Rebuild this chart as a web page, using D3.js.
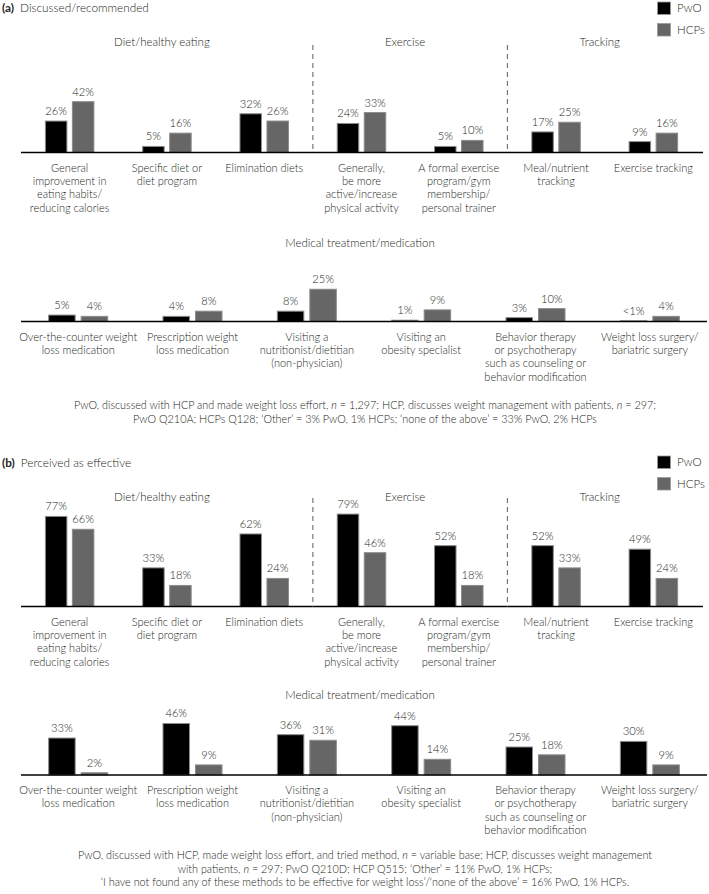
<!DOCTYPE html>
<html><head><meta charset="utf-8">
<script src="https://cdn.jsdelivr.net/npm/d3@7"></script>
<style>
html,body{margin:0;padding:0;background:#fff;}
svg text{font-family:Lato,"Open Sans",sans-serif;fill:#231f20;font-weight:300;}
</style></head>
<body><svg id="c" width="709" height="894"></svg>
<script>
// ---------- data ----------
const groupTitles = ["Diet/healthy eating", "Exercise", "Tracking"];
const groupSizes = [3, 2, 2];
const topCategories = [
  ["General", "improvement in", "eating habits/", "reducing calories"],
  ["Specific diet or", "diet program"],
  ["Elimination diets"],
  ["Generally,", "be more", "active/increase", "physical activity"],
  ["A formal exercise", "program/gym", "membership/", "personal trainer"],
  ["Meal/nutrient", "tracking"],
  ["Exercise tracking"]
];
const medTitle = "Medical treatment/medication";
const medCategories = [
  ["Over-the-counter weight", "loss medication"],
  ["Prescription weight", "loss medication"],
  ["Visiting a", "nutritionist/dietitian", "(non-physician)"],
  ["Visiting an", "obesity specialist"],
  ["Behavior therapy", "or psychotherapy", "such as counseling or", "behavior modification"],
  ["Weight loss surgery/", "bariatric surgery"]
];
const seriesNames = ["PwO", "HCPs"];

// (a) Discussed/recommended
const aTopPwO = [26, 5, 32, 24, 5, 17, 9];
const aTopHCP = [42, 16, 26, 33, 10, 25, 16];
const aMedPwO = [5, 4, 8, 1, 3, 0.5];   // 0.5 shown as "<1%"
const aMedHCP = [4, 8, 25, 9, 10, 4];

// (b) Perceived as effective
const bTopPwO = [77, 33, 62, 79, 52, 52, 49];
const bTopHCP = [66, 18, 24, 46, 18, 33, 24];
const bMedPwO = [33, 46, 36, 44, 25, 30];
const bMedHCP = [2, 9, 31, 14, 18, 9];

const fmt = v => v < 1 ? "<1%" : v + "%";

// ---------- drawing ----------
const svg = d3.select("#c");
const colors = ["#000000", "#666666"];

function legend(y0) {
  const g = svg.append("g");
  seriesNames.forEach((s, i) => {
    g.append("rect").attr("x", 657.5).attr("y", y0 + i * 21.5).attr("width", 13).attr("height", 12.5)
      .attr("fill", colors[i]).attr("stroke", "#999").attr("stroke-width", 0.8);
    g.append("text").attr("x", 677).attr("y", y0 + i * 21.5 + 10).attr("font-size", 11.5).text(s);
  });
}

function title(y, tag, txt) {
  const t = svg.append("text").attr("x", 2).attr("y", y).attr("font-size", 11.8);
  t.append("tspan").attr("font-weight", "bold").text(tag);
  t.append("tspan").attr("dx", 6).text(txt);
}

function barRow(opts) {
  const { cats, pwo, hcp, range, base, pxPer, barW, gap } = opts;
  const x = d3.scaleBand().domain(d3.range(cats.length)).range(range).padding(0);
  const yMax = 100;
  const y = d3.scaleLinear().domain([0, yMax]).range([base, base - pxPer * yMax]);
  const g = svg.append("g");
  const data = cats.map((c, i) => ({ i, vals: [pwo[i], hcp[i]] }));
  data.forEach(d => {
    const cx = x(d.i) + x.bandwidth() / 2;
    d.vals.forEach((v, k) => {
      const bx = k === 0 ? cx - gap / 2 - barW : cx + gap / 2;
      g.append("rect").attr("x", bx).attr("y", y(v)).attr("width", barW)
        .attr("height", Math.max(0, y(0) - y(v)))
        .attr("fill", colors[k]).attr("stroke", "#8c8c8c").attr("stroke-width", 1);
      g.append("text").attr("x", bx + barW / 2).attr("y", y(v) - 6)
        .attr("text-anchor", "middle").attr("font-size", 11.2).attr("fill", "#333").text(fmt(v));
    });
    const t = g.append("text").attr("text-anchor", "middle").attr("font-size", 11);
    cats[d.i].forEach((line, li) => {
      t.append("tspan").attr("x", cx).attr("y", base + 19 + li * 13.4).text(line);
    });
  });
  g.append("line").attr("x1", range[0]).attr("x2", opts.axisEnd || range[1])
    .attr("y1", base).attr("y2", base).attr("stroke", "#000").attr("stroke-width", 1.5);
  return x;
}

function topRow(pwo, hcp, base, pxPer, titleY, dashTop) {
  const x = barRow({ cats: topCategories, pwo, hcp, range: [21, 702], axisEnd: 703, base, pxPer, barW: 21.5, gap: 5.5 });
  let idx = 0;
  groupSizes.forEach((n, gi) => {
    const start = x(idx), end = x(idx + n - 1) + x.bandwidth();
    svg.append("text").attr("x", (start + end) / 2 - 5).attr("y", titleY)
      .attr("text-anchor", "middle").attr("font-size", 11.5).text(groupTitles[gi]);
    if (gi > 0) {
      svg.append("line").attr("x1", start).attr("x2", start).attr("y1", dashTop).attr("y2", base)
        .attr("stroke", "#777").attr("stroke-width", 1.2).attr("stroke-dasharray", "5,4");
    }
    idx += n;
  });
}

function medRow(pwo, hcp, base, pxPer, titleY) {
  const x = barRow({ cats: medCategories, pwo, hcp, range: [21, 707], base, pxPer, barW: 26.5, gap: 6 });
  svg.append("text").attr("x", 360).attr("y", titleY).attr("text-anchor", "middle")
    .attr("font-size", 11.5).text(medTitle);
}

function footnote(lines, yStart) {
  lines.forEach((parts, li) => {
    const t = svg.append("text").attr("x", 365).attr("y", yStart + li * 13.5)
      .attr("text-anchor", "middle").attr("font-size", 10.8);
    parts.forEach(p => {
      const ts = t.append("tspan").text(p[0]);
      if (p[1]) ts.attr("font-style", "italic");
    });
  });
}

// Panel (a)
title(11.5, "(a)", "Discussed/recommended");
legend(2);
topRow(aTopPwO, aTopHCP, 152.5, 1.21, 46, 45);
medRow(aMedPwO, aMedHCP, 321.5, 1.29, 247);
footnote([
  [["PwO, discussed with HCP and made weight loss effort, "], ["n", true], [" = 1,297; HCP, discusses weight management with patients, "], ["n", true], [" = 297;"]],
  [["PwO Q210A; HCPs Q128; \u2018Other\u2019 = 3% PwO, 1% HCPs; \u2018none of the above\u2019 = 33% PwO, 2% HCPs"]]
], 409);

// Panel (b)
title(466.5, "(b)", "Perceived as effective");
legend(456);
topRow(bTopPwO, bTopHCP, 606.5, 1.17, 501, 498);
medRow(bMedPwO, bMedHCP, 775, 1.12, 699);
footnote([
  [["PwO, discussed with HCP, made weight loss effort, and tried method, "], ["n", true], [" = variable base; HCP, discusses weight management"]],
  [["with patients, "], ["n", true], [" = 297; PwO Q210D; HCP Q515; \u2018Other\u2019 = 11% PwO, 1% HCPs;"]],
  [["\u2018I have not found any of these methods to be effective for weight loss\u2019/\u2018none of the above\u2019 = 16% PwO, 1% HCPs."]]
], 859);
</script></body></html>
